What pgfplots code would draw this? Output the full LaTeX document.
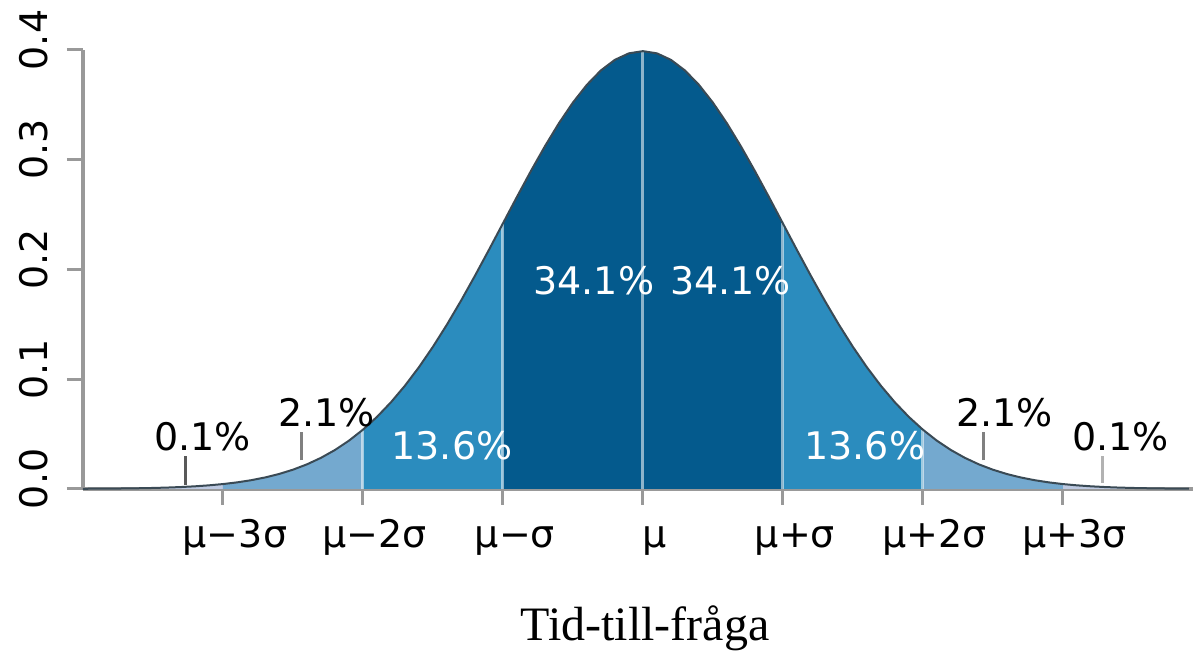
\documentclass[border=0pt]{standalone}
\usepackage{pgfplots}
\pgfplotsset{compat=1.18}
\usepackage{pgfplotstable}
\usepackage{fontspec}
\setmainfont{Liberation Serif}
\newfontfamily\dejavu{DejaVu Sans}
\definecolor{cdark}{HTML}{045A8D}
\definecolor{cmid}{HTML}{2B8CBE}
\definecolor{clight}{HTML}{74A9CF}
\definecolor{couter}{HTML}{BDC9E1}
\definecolor{axgray}{HTML}{999999}
\definecolor{curvec}{HTML}{3A4A55}

\pgfplotstableread{
x y
-4.0 0.00013
-3.9 0.00020
-3.8 0.00029
-3.7 0.00042
-3.6 0.00061
-3.5 0.00087
-3.4 0.00123
-3.3 0.00172
-3.2 0.00238
-3.1 0.00327
-3.0 0.00443
-2.9 0.00595
-2.8 0.00792
-2.7 0.01042
-2.6 0.01358
-2.5 0.01753
-2.4 0.02239
-2.3 0.02833
-2.2 0.03547
-2.1 0.04398
-2.0 0.05399
-1.9 0.06562
-1.8 0.07895
-1.7 0.09405
-1.6 0.11092
-1.5 0.12952
-1.4 0.14973
-1.3 0.17137
-1.2 0.19419
-1.1 0.21785
-1.0 0.24197
-0.9 0.26609
-0.8 0.28969
-0.7 0.31225
-0.6 0.33322
-0.5 0.35207
-0.4 0.36827
-0.3 0.38139
-0.2 0.39104
-0.1 0.39695
0.0 0.39894
0.1 0.39695
0.2 0.39104
0.3 0.38139
0.4 0.36827
0.5 0.35207
0.6 0.33322
0.7 0.31225
0.8 0.28969
0.9 0.26609
1.0 0.24197
1.1 0.21785
1.2 0.19419
1.3 0.17137
1.4 0.14973
1.5 0.12952
1.6 0.11092
1.7 0.09405
1.8 0.07895
1.9 0.06562
2.0 0.05399
2.1 0.04398
2.2 0.03547
2.3 0.02833
2.4 0.02239
2.5 0.01753
2.6 0.01358
2.7 0.01042
2.8 0.00792
2.9 0.00595
3.0 0.00443
3.1 0.00327
3.2 0.00238
3.3 0.00172
3.4 0.00123
3.5 0.00087
3.6 0.00061
3.7 0.00042
3.8 0.00029
3.9 0.00020
}\curve

\pgfplotstableread{
x y
-2 0.05399
-1 0.24197
0 0.39894
1 0.24197
2 0.05399
}\bounds

\begin{document}
\begin{tikzpicture}
\begin{axis}[
  x=70pt, y=548.75pt,
  xmin=-4, xmax=3.93, ymin=0, ymax=0.4,
  axis x line=bottom, axis y line=left,
  axis line style={-, draw=axgray, line width=2pt},
  xtick={-3,-2,-1,0,1,2,3},
  xticklabels={μ−3σ, μ−2σ, μ−σ, μ, μ+σ, μ+2σ, μ+3σ},
  ytick={0,0.1,0.2,0.3,0.4},
  yticklabels={0.0,0.1,0.2,0.3,0.4},
  tick align=outside,
  major tick length=8pt,
  tick style={draw=axgray, line width=1.5pt},
  ticklabel style={font=\dejavu\fontsize{19}{23}\selectfont, text=black},
  yticklabel style={xshift=-6pt, yshift=5pt, rotate=90, anchor=south},
  xticklabel style={xshift=6pt, yshift=-4pt, text height=14pt},
  clip=false,
]
\addplot[fill=couter, draw=none, restrict x to domain=-4:-3] table {\curve} \closedcycle;
\addplot[fill=couter, draw=none, restrict x to domain=3:4] table {\curve} \closedcycle;
\addplot[fill=clight, draw=none, restrict x to domain=-3:-2] table {\curve} \closedcycle;
\addplot[fill=clight, draw=none, restrict x to domain=2:3] table {\curve} \closedcycle;
\addplot[fill=cmid, draw=none, restrict x to domain=-2:-1] table {\curve} \closedcycle;
\addplot[fill=cmid, draw=none, restrict x to domain=1:2] table {\curve} \closedcycle;
\addplot[fill=cdark, draw=none, restrict x to domain=-1:1] table {\curve} \closedcycle;
\addplot[ycomb, draw=white, opacity=0.55, line width=1.5pt, mark=none] table {\bounds};
\addplot[draw=curvec, line width=1pt, mark=none] table {\curve};
% annotation ticks
\addplot[draw=black!65, line width=1.5pt, mark=none] coordinates {(-3.27,0.0036) (-3.27,0.030)};
\addplot[draw=black!50, line width=1.5pt, mark=none] coordinates {(-2.44,0.026) (-2.44,0.052)};
\addplot[draw=black!50, line width=1.5pt, mark=none] coordinates {(2.43,0.026) (2.43,0.052)};
\addplot[draw=black!30, line width=1.5pt, mark=none] coordinates {(3.28,0.0055) (3.28,0.030)};
% percentage labels
\begin{scope}[every node/.style={font=\dejavu\fontsize{19}{23}\selectfont, inner sep=0pt}]
\node[text=black] at (axis cs:-3.146,0.0478) {0.1\%};
\node[text=black] at (axis cs:-2.261,0.0697) {2.1\%};
\node[text=white] at (axis cs:-1.364,0.0392) {13.6\%};
\node[text=white] at (axis cs:-0.35,0.19) {34.1\%};
\node[text=white] at (axis cs:0.625,0.19) {34.1\%};
\node[text=white] at (axis cs:1.586,0.0392) {13.6\%};
\node[text=black] at (axis cs:2.582,0.0697) {2.1\%};
\node[text=black] at (axis cs:3.414,0.0478) {0.1\%};
\end{scope}
\node[anchor=base, font=\fontsize{24}{28}\selectfont, inner sep=0pt] at (axis cs:0.014,0) [yshift=-76pt] {Tid-till-fråga};
\end{axis}
\path (-41.5pt,-81.5pt) rectangle (556pt,244.5pt);
\end{tikzpicture}
\end{document}
